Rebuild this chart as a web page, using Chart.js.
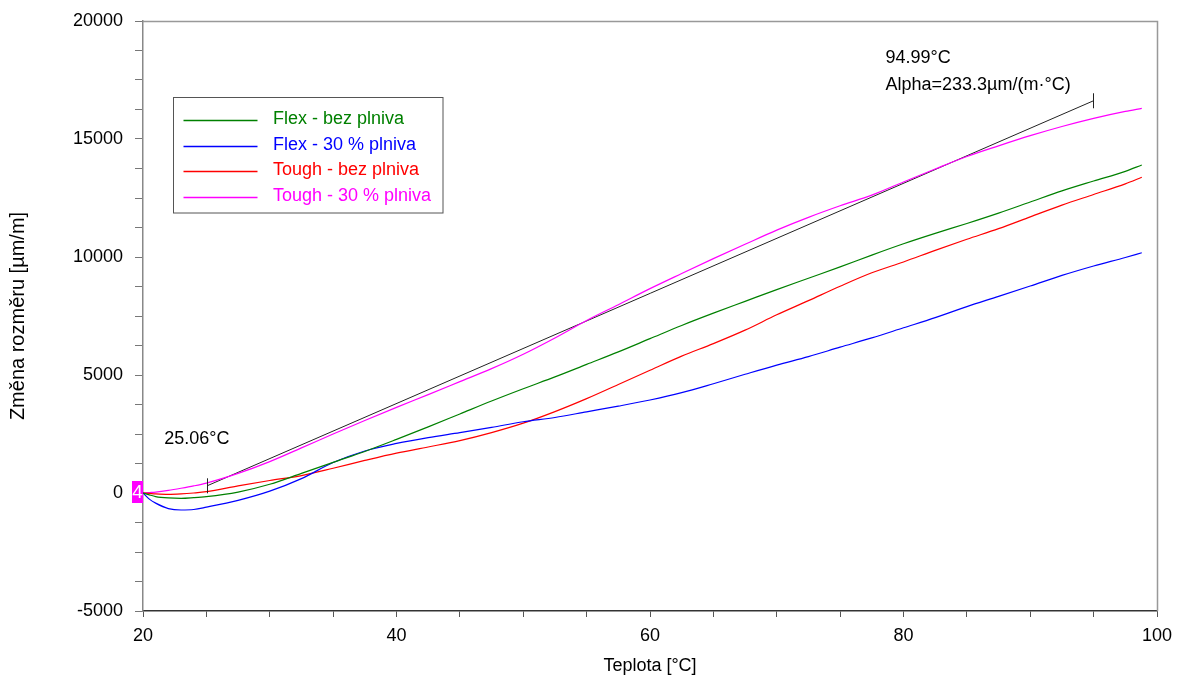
<!DOCTYPE html>
<html>
<head>
<meta charset="utf-8">
<script src="https://cdn.jsdelivr.net/npm/chart.js@4"></script>
<style>
  body { margin: 0; background: #fff; }
  #wrap { width: 1177px; height: 677px; }
</style>
</head>
<body>
<div id="wrap"><canvas id="dilatChart"></canvas></div>
<script>
// teploty mereni [°C]
const teploty = [20, 20.5, 21, 22, 23, 24, 25, 27.5, 30, 32.5, 35, 37.5, 40, 42.5, 45, 47.5, 50,
  52.5, 55, 57.5, 60, 62.5, 65, 67.5, 70, 72.5, 75, 77.5, 80, 82.5, 85, 87.5, 90, 92.5, 95, 97.5, 98.8];

// zmena rozmeru [µm/m]
const flexBez = [0, -80, -150, -210, -230, -200, -155, 40, 370, 830, 1300, 1760, 2270, 2800, 3350, 3900, 4420,
  4920, 5450, 5980, 6540, 7100, 7620, 8120, 8620, 9100, 9580, 10080, 10560, 11000, 11420, 11860, 12330, 12800, 13220, 13630, 13900];
const flex30 = [0, -260, -430, -660, -720, -700, -600, -310, 80, 610, 1290, 1780, 2100, 2350, 2560, 2780, 3020,
  3200, 3440, 3680, 3940, 4250, 4630, 5030, 5420, 5780, 6180, 6570, 7000, 7430, 7900, 8330, 8770, 9220, 9620, 9980, 10180];
const toughBez = [0, -20, -40, -60, -40, 0, 55, 300, 530, 740, 1050, 1380, 1690, 1950, 2220, 2560, 2960,
  3450, 4000, 4600, 5200, 5800, 6330, 6900, 7550, 8150, 8760, 9330, 9790, 10280, 10750, 11200, 11700, 12200, 12650, 13100, 13380];
const tough30 = [0, 20, 40, 110, 200, 300, 420, 830, 1330, 1910, 2500, 3070, 3630, 4170, 4720, 5270, 5880,
  6570, 7310, 7980, 8660, 9300, 9930, 10540, 11140, 11680, 12170, 12620, 13180, 13730, 14260, 14710, 15140, 15530, 15876, 16170, 16300];

const nazvy = ['Flex - bez plniva', 'Flex - 30 % plniva', 'Tough - bez plniva', 'Tough - 30 % plniva'];
const barvy = ['#008000', '#0000ff', '#ff0000', '#ff00ff'];

// linearni prolozeni (Tough - 30 %)
const fitOd = 25.06;
const fitDo = 94.99;
const fitStart = 305;
const alpha = 233.3;

const xPopisky = [20, 40, 60, 80, 100];
const yPopisky = [-5000, 0, 5000, 10000, 15000, 20000];

const FONT = 'Arial, "Liberation Sans", sans-serif';

function body(hodnoty) {
  return teploty.map((t, i) => ({ x: t, y: hodnoty[i] }));
}

const fitData = [
  { x: fitOd, y: fitStart },
  { x: fitDo, y: fitStart + alpha * (fitDo - fitOd) }
];

const serie = [flexBez, flex30, toughBez, tough30].map((s, i) => ({
  label: nazvy[i],
  data: body(s),
  borderColor: barvy[i],
  borderWidth: 1.2,
  pointRadius: 0,
  cubicInterpolationMode: 'monotone'
}));

serie.push({
  label: 'fit',
  data: fitData,
  borderColor: '#222',
  borderWidth: 1,
  pointRadius: 0
});

const doplnky = {
  id: 'doplnky',
  afterDatasetsDraw(chart) {
    const ctx = chart.ctx;
    const a = chart.chartArea;
    const xs = chart.scales.x;
    const ys = chart.scales.y;
    ctx.save();

    // horni a prava hrana ramecku
    ctx.strokeStyle = '#999';
    ctx.lineWidth = 1.5;
    ctx.beginPath();
    ctx.moveTo(a.left, a.top + 0.5);
    ctx.lineTo(a.right + 0.5, a.top + 0.5);
    ctx.lineTo(a.right + 0.5, a.bottom);
    ctx.stroke();

    // koncove znacky primky
    ctx.strokeStyle = '#222';
    ctx.lineWidth = 1;
    const p1 = { x: xs.getPixelForValue(fitData[0].x), y: ys.getPixelForValue(fitData[0].y) };
    const p2 = { x: xs.getPixelForValue(fitData[1].x), y: ys.getPixelForValue(fitData[1].y) };
    [p1, p2].forEach(p => {
      ctx.beginPath();
      ctx.moveTo(Math.round(p.x) + 0.5, p.y - 7.5);
      ctx.lineTo(Math.round(p.x) + 0.5, p.y + 7.5);
      ctx.stroke();
    });

    ctx.fillStyle = '#000';
    ctx.font = '18px ' + FONT;
    ctx.textBaseline = 'middle';
    ctx.textAlign = 'left';
    ctx.fillText(fitOd.toFixed(2) + '°C', p1.x - 43, p1.y - 47);
    ctx.fillText(fitDo.toFixed(2) + '°C', p2.x - 208, p2.y - 43);
    ctx.fillText('Alpha=' + alpha.toFixed(1) + 'µm/(m·°C)', p2.x - 208, p2.y - 16);

    // legenda
    const lx = a.left + 30.5, ly = 97.5;
    ctx.strokeStyle = '#555';
    ctx.lineWidth = 1;
    ctx.strokeRect(lx, ly, 269.5, 115.5);
    nazvy.forEach((n, i) => {
      const y = Math.round(ly + 22.5 + i * 25.6) + 0.5;
      ctx.strokeStyle = barvy[i];
      ctx.lineWidth = 1.5;
      ctx.beginPath();
      ctx.moveTo(lx + 10, y);
      ctx.lineTo(lx + 84, y);
      ctx.stroke();
      ctx.fillStyle = barvy[i];
      ctx.fillText(n, lx + 99.5, y - 1);
    });

    // znacka pocatku na ose y
    const y0 = ys.getPixelForValue(0);
    ctx.fillStyle = '#ff00ff';
    ctx.fillRect(a.left - 11, y0 - 12, 11, 22);
    ctx.fillStyle = '#fff';
    ctx.textAlign = 'center';
    ctx.font = '19px ' + FONT;
    ctx.fillText('4', a.left - 5.5, y0);

    ctx.restore();
  }
};

new Chart(document.getElementById('dilatChart'), {
  type: 'line',
  data: { datasets: serie },
  options: {
    responsive: true,
    maintainAspectRatio: false,
    animation: false,
    layout: { padding: { top: 21, right: 20, left: 0, bottom: 0 } },
    plugins: {
      legend: { display: false },
      tooltip: { enabled: false }
    },
    scales: {
      x: {
        type: 'linear',
        min: 20,
        max: 100,
        afterFit: s => { s.height = 66; s.paddingRight = 0; },
        ticks: {
          stepSize: 5,
          autoSkip: false,
          maxRotation: 0,
          padding: 8,
          color: '#000',
          font: { family: FONT, size: 18 },
          callback: v => xPopisky.includes(v) ? String(v) : ''
        },
        grid: { drawOnChartArea: false, tickLength: 6, color: '#555' },
        border: { color: '#333', width: 1.5 },
        title: {
          display: true,
          text: 'Teplota [°C]',
          color: '#000',
          font: { family: FONT, size: 18 },
          padding: { top: 0, bottom: 0 }
        }
      },
      y: {
        min: -5000,
        max: 20000,
        afterFit: s => { s.width = 143; s.paddingTop = 0; },
        ticks: {
          stepSize: 1250,
          autoSkip: false,
          padding: 12,
          color: '#000',
          font: { family: FONT, size: 18 },
          callback: v => yPopisky.includes(v) ? String(v) : ''
        },
        grid: { drawOnChartArea: false, tickLength: 8, color: '#777' },
        border: { color: '#888', width: 1.5 },
        title: {
          display: true,
          text: 'Změna rozměru [µm/m]',
          color: '#000',
          font: { family: FONT, size: 20 },
          padding: { top: 6, bottom: 0 }
        }
      }
    }
  },
  plugins: [doplnky]
});
</script>
</body>
</html>
